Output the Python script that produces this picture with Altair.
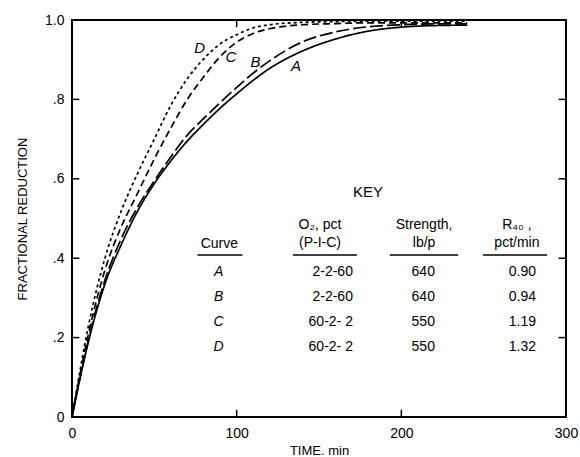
import altair as alt
import pandas as pd

# ---- data ----
time_min = [0, 5, 10, 20, 30, 40, 50, 60, 70, 80, 90, 100, 110, 120, 140, 160, 180, 200, 220, 240]
curve_A = [0, 0.10, 0.19, 0.335, 0.435, 0.52, 0.588, 0.645, 0.695, 0.738, 0.778, 0.814, 0.848, 0.878, 0.922, 0.952, 0.972, 0.982, 0.986, 0.987]
curve_B = [0, 0.10, 0.195, 0.345, 0.45, 0.53, 0.595, 0.655, 0.71, 0.752, 0.792, 0.830, 0.866, 0.897, 0.945, 0.97, 0.983, 0.988, 0.99, 0.99]
curve_C = [0, 0.11, 0.21, 0.37, 0.48, 0.565, 0.65, 0.728, 0.80, 0.857, 0.908, 0.944, 0.966, 0.978, 0.988, 0.991, 0.993, 0.993, 0.993, 0.993]
curve_D = [0, 0.12, 0.23, 0.40, 0.52, 0.615, 0.70, 0.785, 0.852, 0.902, 0.94, 0.963, 0.98, 0.988, 0.994, 0.996, 0.997, 0.997, 0.997, 0.997]

curve_ids = ["A", "B", "C", "D"]
o2_pct = ["2-2-60", "2-2-60", "60-2- 2", "60-2- 2"]
strength = ["640", "640", "550", "550"]
r40 = ["0.90", "0.94", "1.19", "1.32"]

x_ticks = [0, 100, 200, 300]
y_ticks = [0, 0.2, 0.4, 0.6, 0.8, 1.0]
inner_x_ticks = [100, 200]
inner_y_ticks = [0.2, 0.4, 0.6, 0.8]

# ---- layout (data units) ----
label_t = [136, 111.5, 96.5, 77.5]      # curve labels A, B, C, D
label_f = [0.884, 0.894, 0.907, 0.929]
row_f = [0.366, 0.303, 0.240, 0.176]
col_curve, col_o2, col_str, col_r40 = 89.0, 170.6, 213.3, 281.8
FONT = "Liberation Sans"

series = {"A": curve_A, "B": curve_B, "C": curve_C, "D": curve_D}
rows = []
for cid, vals in series.items():
    for t, v in zip(time_min, vals):
        rows.append({"t": t, "f": v, "curve": cid})
df = pd.DataFrame(rows)

xs = alt.Scale(domain=[0, 300], nice=False)
ys = alt.Scale(domain=[0, 1], nice=False)

X = alt.X("t:Q", scale=xs, axis=alt.Axis(
    values=x_ticks, title="TIME. min", grid=False, domain=False, ticks=False,
    labelFontSize=14, labelPadding=9, titleFontSize=13, titleFontWeight="normal",
    titlePadding=4, labelFont=FONT, titleFont=FONT, labelColor="black", titleColor="black",
    labelFlush=False))
Y = alt.Y("f:Q", scale=ys, axis=alt.Axis(
    values=y_ticks, title="FRACTIONAL REDUCTION", grid=False, domain=False, ticks=False,
    labelFontSize=14, labelPadding=8, titleFontSize=13, titleFontWeight="normal",
    titlePadding=15, labelFont=FONT, titleFont=FONT, labelColor="black", titleColor="black",
    labelFlush=False,
    labelExpr="datum.value == 0 ? '0' : datum.value == 1 ? '1.0' : replace(format(datum.value, '.1f'), '0.', '.')"))

lines = alt.Chart(df).mark_line(color="black", strokeWidth=1.7, interpolate="monotone", clip=True).encode(
    x=X, y=Y,
    strokeDash=alt.StrokeDash("curve:N", legend=None, scale=alt.Scale(
        domain=["A", "B", "C", "D"], range=[[1, 0], [13, 4], [7, 4], [3, 3]])),
    detail="curve:N")

lab_df = pd.DataFrame({"t": label_t, "f": label_f, "txt": curve_ids})
labels = alt.Chart(lab_df).mark_text(fontSize=15, fontStyle="italic", font=FONT, color="black").encode(
    x=alt.X("t:Q", scale=xs), y=alt.Y("f:Q", scale=ys), text="txt:N")

# inward ticks on all four sides
tlx, tly = 4.5, 0.018
tick_rows = []
for v in inner_x_ticks:
    tick_rows.append({"t": v, "t2": v, "f": 0, "f2": tly})
    tick_rows.append({"t": v, "t2": v, "f": 1, "f2": 1 - tly})
for v in inner_y_ticks:
    tick_rows.append({"t": 0, "t2": tlx, "f": v, "f2": v})
    tick_rows.append({"t": 300, "t2": 300 - tlx, "f": v, "f2": v})
ticks = alt.Chart(pd.DataFrame(tick_rows)).mark_rule(color="black", strokeWidth=1.5).encode(
    x=alt.X("t:Q", scale=xs), x2="t2:Q", y=alt.Y("f:Q", scale=ys), y2="f2:Q")

# key table
def txt(df_, align="center", italic=False, size=14):
    return alt.Chart(df_).mark_text(align=align, baseline="middle", fontSize=size, font=FONT,
                                    color="black", fontStyle="italic" if italic else "normal").encode(
        x=alt.X("t:Q", scale=xs), y=alt.Y("f:Q", scale=ys), text="txt:N")

hdr = pd.DataFrame([
    {"t": 150.6, "f": 0.484, "txt": "O₂, pct"},
    {"t": 150.6, "f": 0.438, "txt": "(P-I-C)"},
    {"t": 213.8, "f": 0.484, "txt": "Strength,"},
    {"t": 213.8, "f": 0.438, "txt": "lb/p"},
    {"t": 270.2, "f": 0.484, "txt": "R₄₀ ,"},
    {"t": 270.2, "f": 0.438, "txt": "pct/min"},
    {"t": 89.5, "f": 0.435, "txt": "Curve"},
])
header = txt(hdr, size=14)
key_title = txt(pd.DataFrame([{"t": 179.8, "f": 0.567, "txt": "KEY"}]), size=15)

ul = pd.DataFrame([
    {"t": 76.2, "t2": 103.5, "f": 0.408},
    {"t": 134.2, "t2": 173.0, "f": 0.408},
    {"t": 193.0, "t2": 234.5, "f": 0.408},
    {"t": 249.6, "t2": 288.5, "f": 0.408},
])
underlines = alt.Chart(ul).mark_rule(color="black", strokeWidth=1.5).encode(
    x=alt.X("t:Q", scale=xs), x2="t2:Q", y=alt.Y("f:Q", scale=ys))

c1 = txt(pd.DataFrame({"t": [col_curve] * 4, "f": row_f, "txt": curve_ids}), italic=True)
c2 = txt(pd.DataFrame({"t": [col_o2] * 4, "f": row_f, "txt": o2_pct}), align="right")
c3 = txt(pd.DataFrame({"t": [col_str] * 4, "f": row_f, "txt": strength}))
c4 = txt(pd.DataFrame({"t": [col_r40] * 4, "f": row_f, "txt": r40}), align="right")

chart = alt.layer(lines, labels, ticks, key_title, header, underlines, c1, c2, c3, c4).properties(
    width=494, height=397,
    autosize=alt.AutoSizeParams(type="none"),
    padding={"left": 72, "top": 20, "right": 14, "bottom": 40},
    background="white",
).configure_view(stroke="black", strokeWidth=2)

chart.save("out.html", embed_options={"renderer": "svg", "actions": False})
